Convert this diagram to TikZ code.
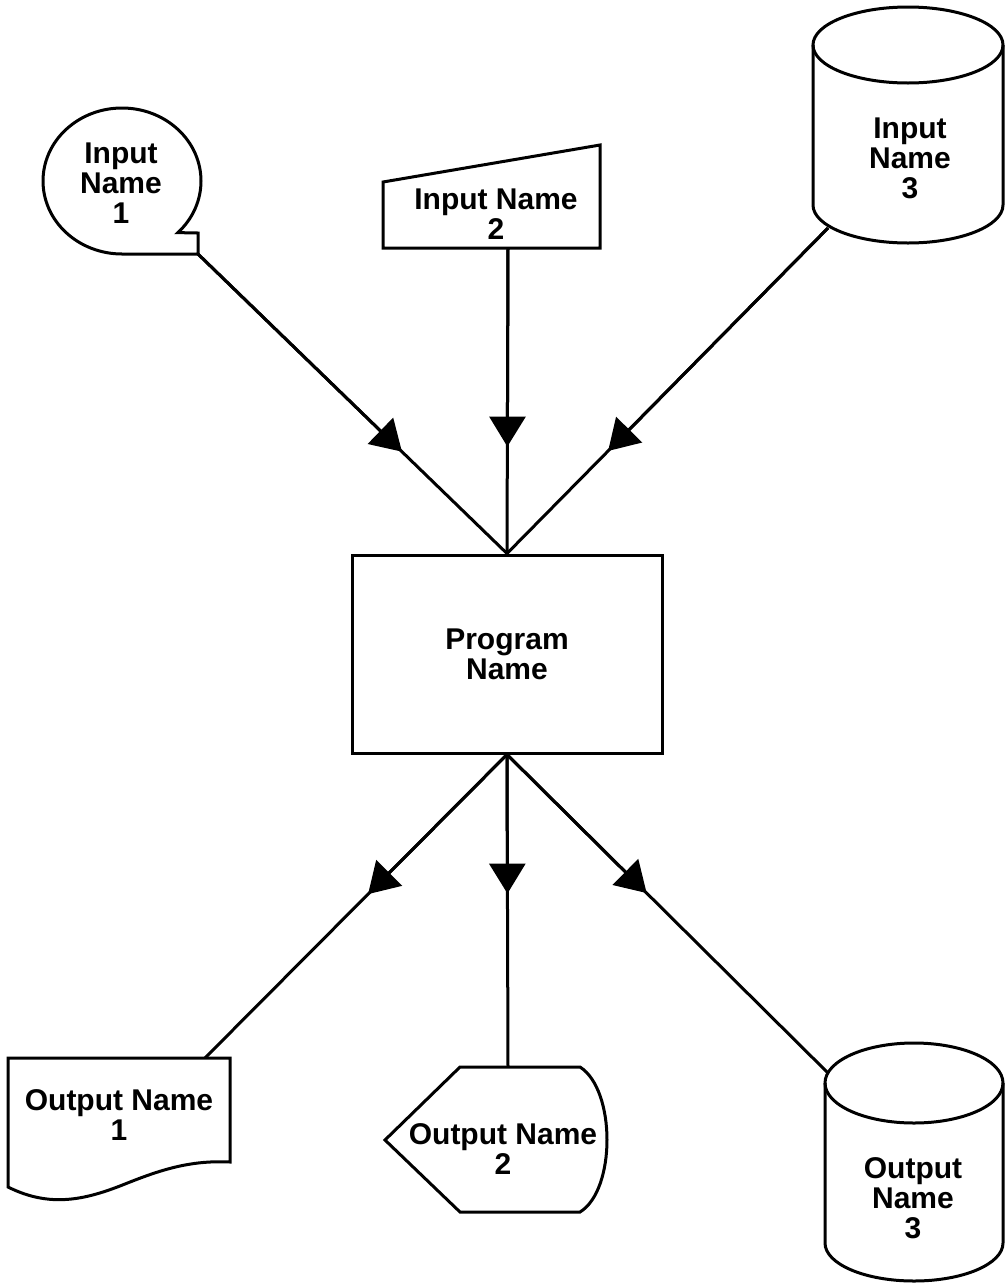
\documentclass[tikz,border=0pt]{standalone}
\usepackage{fontspec}
\setmainfont{Liberation Sans}
\usetikzlibrary{arrows.meta,calc}
\begin{document}
\begin{tikzpicture}[x=1pt,y=-1pt, line width=3pt, line join=miter,
  lbl/.style={font=\bfseries\fontsize{30}{30}\selectfont, align=center, inner sep=0pt},
  conn/.style={line width=3pt},
  tipmark/.style={-{Triangle[length=30pt,width=36pt]}}]
\useasboundingbox (0,0) rectangle (1006,1283);

% Input 1: circle with tab
\draw (122,181) ++(45:79 and 73) arc[start angle=45, end angle=-270, x radius=79, y radius=73]
  -- (198,254) -- (198,233) -- cycle;
\node[lbl] (in1) at (121,183) {Input\\Name\\1};
\coordinate (in1b) at (198,254);

% Input 2: manual input
\draw (383,182) -- (600,145) -- (600,248) -- (383,248) -- cycle;
\node[lbl] (in2) at (496,214) {Input Name\\2};
\coordinate (in2b) at (508,248);

% Input 3: cylinder
\draw (908,45) ellipse[x radius=95, y radius=38];
\draw (813,45) -- (813,205) arc[start angle=180, end angle=0, x radius=95, y radius=38] -- (1003,45);
\node[lbl] (in3) at (910,158) {Input\\Name\\3};
\coordinate (in3b) at (828,228);

% Program
\node[draw, lbl, minimum width=310pt, minimum height=198pt] (prog) at (507,654) {Program\\Name};

% Output 1: document
\draw (8,1187) -- (8,1058) -- (230,1058) -- (230,1162)
  .. controls (190,1160) and (160,1170) .. (125,1184)
  .. controls (85,1200) and (50,1208) .. (8,1187) -- cycle;
\node[lbl] (out1) at (119,1115) {Output Name\\1};
\coordinate (out1t) at (205,1058);

% Output 2: display
\draw (460,1067) -- (580,1067) .. controls (616,1090) and (616,1190) .. (580,1212)
  -- (460,1212) -- (385,1140) -- cycle;
\node[lbl] (out2) at (503,1149) {Output Name\\2};
\coordinate (out2t) at (508,1067);

% Output 3: cylinder
\draw (914,1083) ellipse[x radius=89, y radius=40];
\draw (825,1083) -- (825,1243) arc[start angle=180, end angle=0, x radius=89, y radius=38] -- (1003,1083);
\node[lbl] (out3) at (913,1198) {Output\\Name\\3};
\coordinate (out3t) at (828,1073);

% connectors
\draw[conn] (in1b) -- (prog.north);
\draw[conn,tipmark] (in1b) -- ($(in1b)!0.66!(prog.north)$);
\draw[conn] (in2b) -- (prog.north);
\draw[conn,tipmark] (in2b) -- ($(in2b)!0.65!(prog.north)$);
\draw[conn] (in3b) -- (prog.north);
\draw[conn,tipmark] (in3b) -- ($(in3b)!0.685!(prog.north)$);

\draw[conn] (prog.south) -- (out1t);
\draw[conn,tipmark] (prog.south) -- ($(prog.south)!0.46!(out1t)$);
\draw[conn] (prog.south) -- (out2t);
\draw[conn,tipmark] (prog.south) -- ($(prog.south)!0.445!(out2t)$);
\draw[conn] (prog.south) -- (out3t);
\draw[conn,tipmark] (prog.south) -- ($(prog.south)!0.435!(out3t)$);
\end{tikzpicture}
\end{document}
